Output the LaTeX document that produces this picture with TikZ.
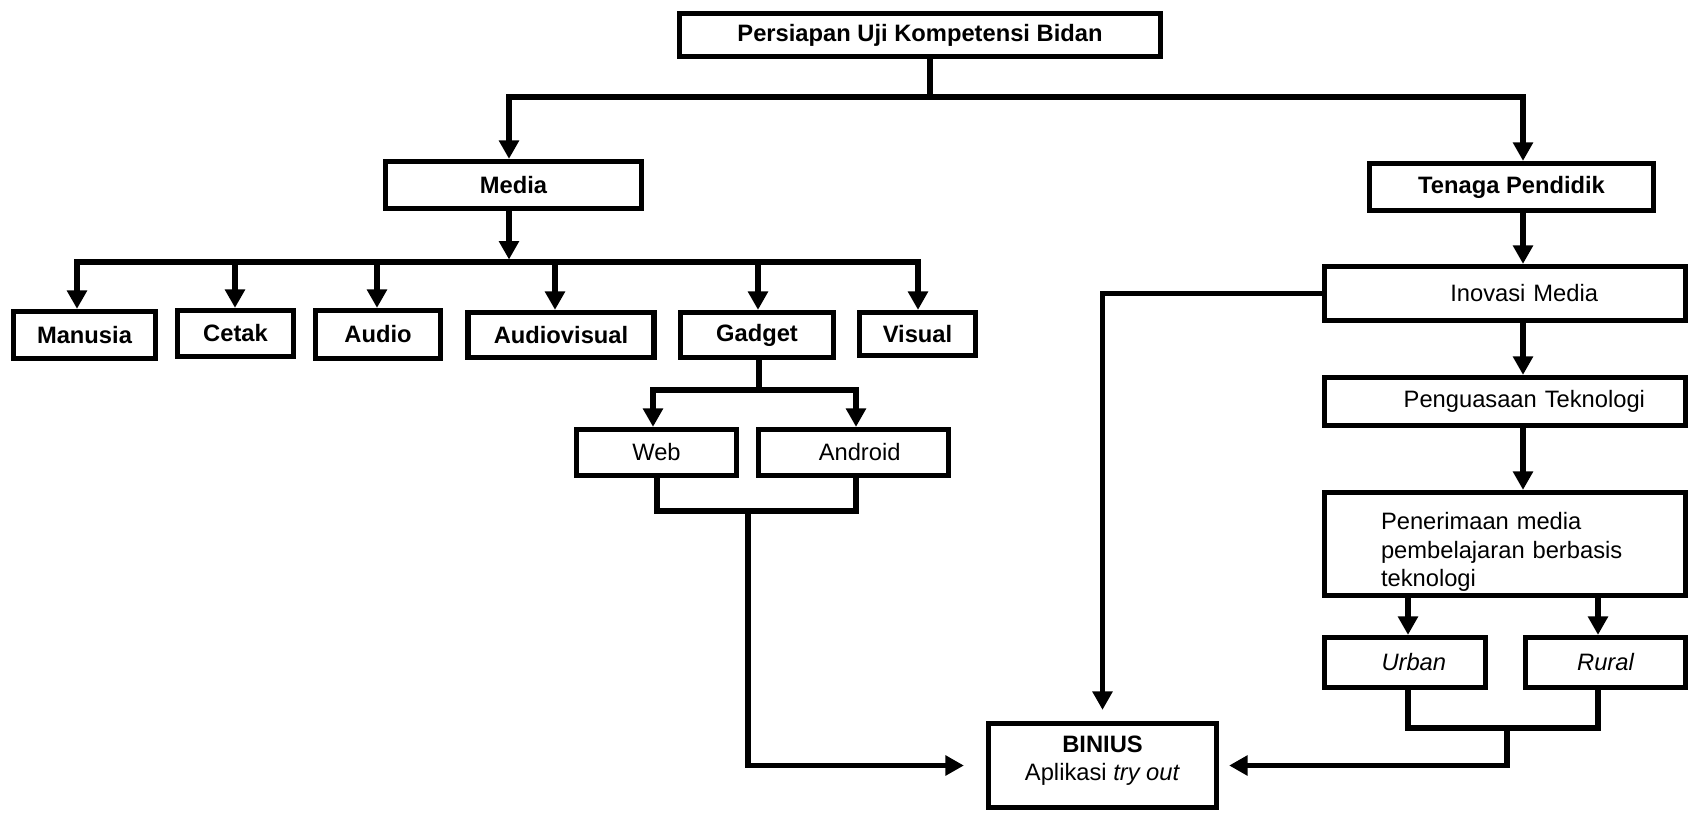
\documentclass[tikz,border=0pt]{standalone}
\usepackage{fontspec}
\setmainfont{Liberation Sans}
\usetikzlibrary{arrows.meta}
\tikzstyle{chart} = [x = 0.02cm, y = -0.02cm]
\tikzstyle{boxStyle} = [draw, line width = 3pt, inner sep = 0pt, font = \fontsize{13.5}{16.2}\selectfont]
\tikzstyle{boldBox} = [boxStyle, font = \fontsize{13.5}{16.2}\selectfont\bfseries]
\tikzstyle{italicBox} = [boxStyle, font = \fontsize{13.5}{16.2}\selectfont\itshape]
\tikzstyle{plainLine} = [line width = 3pt]
\tikzstyle{arrowLine} = [plainLine, -{Triangle[length = 10.5pt, width = 11pt]}]
\newcommand{\px}{0.02cm}
\newcommand{\chartBox}[7]{\node [#1, minimum width = #5*\px, minimum height = #6*\px] (#2) at (#3, #4) {#7};}

\begin{document}
\begin{tikzpicture}[chart]
  \useasboundingbox (0, 0) rectangle (1690, 812);

  % boxes
  \chartBox{boldBox}{title}{920}{35}{481}{43}{Persiapan Uji Kompetensi Bidan}
  \chartBox{boldBox}{media}{513.5}{185}{256}{47}{Media}
  \chartBox{boldBox}{tenaga}{1511.5}{187}{284}{47}{Tenaga Pendidik}
  \chartBox{boldBox}{manusia}{84.5}{335}{142}{47}{Manusia}
  \chartBox{boldBox}{cetak}{235.5}{333.5}{116}{46}{Cetak}
  \chartBox{boldBox}{audio}{378}{334.5}{125}{48}{Audio}
  \chartBox{boldBox}{audiovisual}{561}{335}{186}{45}{Audiovisual}
  \chartBox{boldBox}{gadget}{757}{335}{153}{45}{Gadget}
  \chartBox{boldBox}{visual}{917.5}{334}{116}{43}{Visual}
  \chartBox{boxStyle}{web}{656.5}{452.5}{160}{46}{Web}
  \chartBox{boxStyle}{android}{853.5}{452.5}{190}{46}{\hspace*{7pt}Android}
  \chartBox{boxStyle, align = center}{binius}{1102.5}{765.5}{228}{84}{\textbf{BINIUS}\\Aplikasi \textit{try out}\rule[-8pt]{0pt}{8pt}}
  \chartBox{boxStyle, text width = 186*\px, align = right}{inovasi}{1505}{293.5}{361}{54}{Inovasi Media}
  \chartBox{boxStyle, text width = 280*\px, align = right}{penguasaan}{1505}{401.5}{361}{48}{Penguasaan Teknologi}
  \chartBox{boxStyle, text width = 248*\px, align = left}{penerimaan}{1505}{544}{361}{103}{\rule{0pt}{19pt}Penerimaan media\\pembelajaran berbasis\\teknologi}
  \chartBox{italicBox}{urban}{1405}{662.5}{161}{50}{\hspace*{10pt}Urban}
  \chartBox{italicBox}{rural}{1605.5}{662.5}{160}{50}{Rural}

  % joints
  \coordinate (topJoint) at (930, 97);
  \coordinate (mediaJoint) at (509, 262);
  \coordinate (gadgetJoint) at (759, 390);
  \coordinate (appsJoint) at (748, 511);
  \coordinate (areaJoint) at (1507, 728);

  % top level
  \draw [plainLine] (title.south -| topJoint) -- (topJoint);
  \draw [arrowLine] (topJoint) -| (media.north -| 509,0);
  \draw [arrowLine] (topJoint) -| (tenaga.north -| 1523,0);

  % media branch
  \draw [arrowLine] (media.south -| mediaJoint) -- ([yshift = 2.5*\px]mediaJoint);
  \foreach \target/\xPos in {manusia/77, cetak/235, audio/377, audiovisual/555, gadget/758, visual/918}
    \draw [arrowLine] (mediaJoint) -| (\target.north -| \xPos,0);
  \draw [plainLine] (gadget.south -| gadgetJoint) -- (gadgetJoint);
  \draw [arrowLine] (gadgetJoint) -| (web.north -| 653,0);
  \draw [arrowLine] (gadgetJoint) -| (android.north -| 856,0);
  \draw [plainLine] (web.south -| 657,0) |- (appsJoint);
  \draw [plainLine] (android.south -| 856,0) |- (appsJoint);
  \draw [arrowLine, shorten > = 22*\px] (appsJoint) |- (binius.west);

  % tenaga pendidik branch
  \draw [arrowLine] (tenaga.south -| 1523,0) -- (inovasi.north -| 1523,0);
  \draw [arrowLine, shorten > = 11*\px] (inovasi.west) -| (binius.north);
  \draw [arrowLine] (inovasi.south -| 1523,0) -- (penguasaan.north -| 1523,0);
  \draw [arrowLine] (penguasaan.south -| 1523,0) -- (penerimaan.north -| 1523,0);
  \draw [arrowLine] (penerimaan.south -| 1408,0) -- (urban.north -| 1408,0);
  \draw [arrowLine] (penerimaan.south -| 1598,0) -- (rural.north -| 1598,0);
  \draw [plainLine] (urban.south -| 1408,0) |- (areaJoint);
  \draw [plainLine] (rural.south -| 1598,0) |- (areaJoint);
  \draw [arrowLine, shorten > = 10*\px] (areaJoint) |- (binius.east);
\end{tikzpicture}
\end{document}
